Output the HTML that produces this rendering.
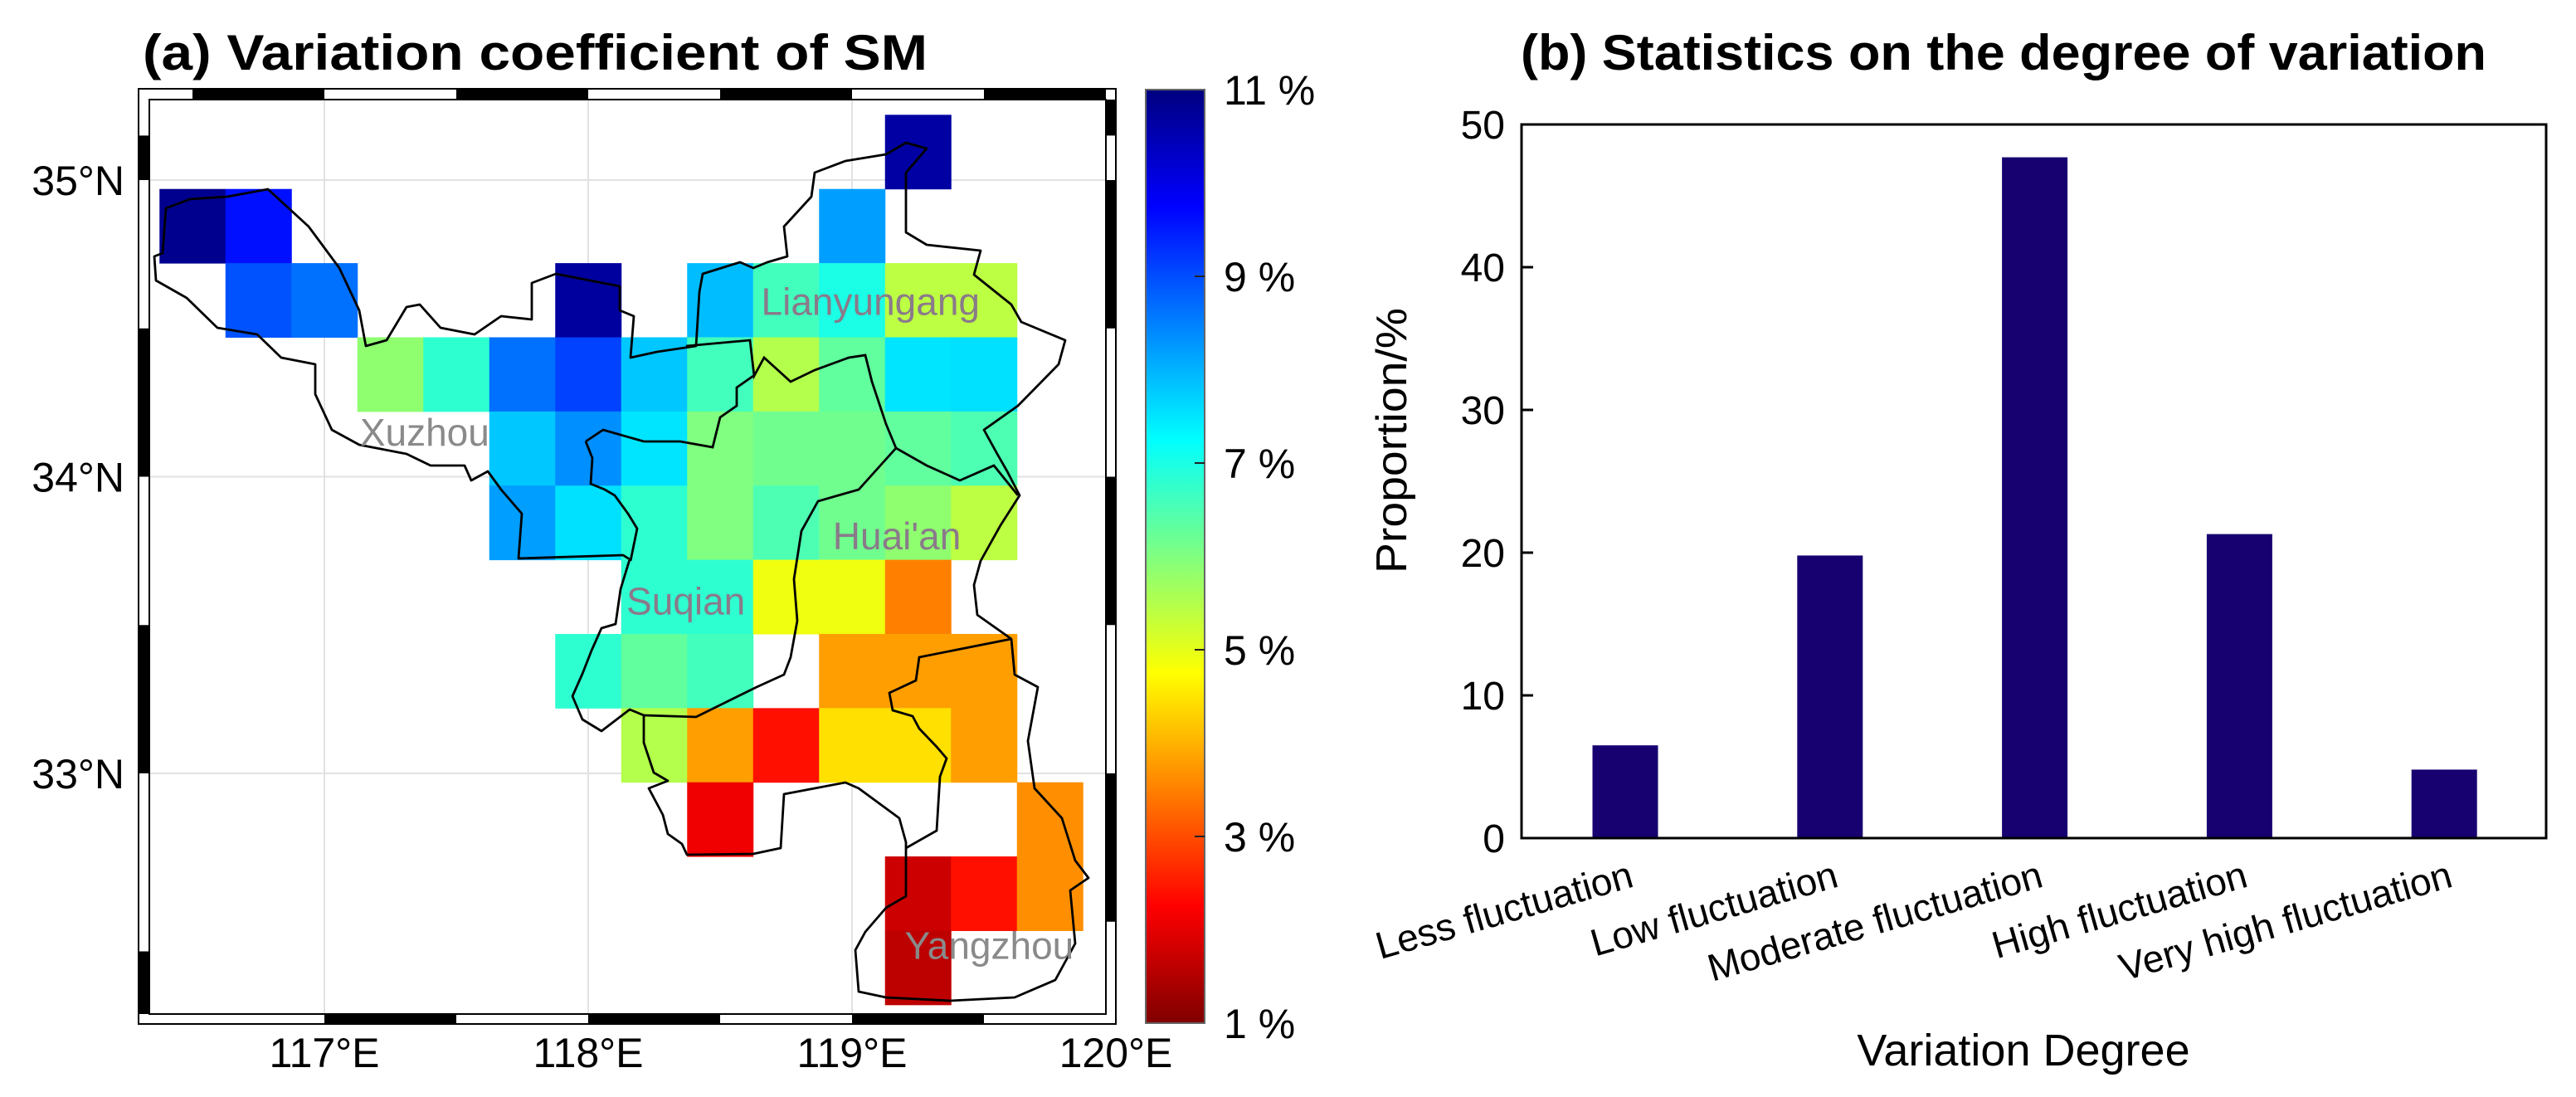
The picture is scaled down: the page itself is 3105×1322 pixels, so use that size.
<!DOCTYPE html>
<html><head><meta charset="utf-8"><title>SM variation</title>
<style>html,body{margin:0;padding:0;background:#fff}svg{display:block}text{font-family:"Liberation Sans",sans-serif}</style></head>
<body>
<svg id="fig" width="3105" height="1322" viewBox="0 0 3105 1322" xmlns="http://www.w3.org/2000/svg">
<rect width="3105" height="1322" fill="#fff"/>
<g id="mapg"></g>
<g id="barg"></g>
</svg>
<script>
// ---- map data (CV %, rows from north, cols from west); null = no data
const gridRowNeg = [null,null,null,null,null,null,null,null,null,null,null,10.65,null,null];
const gridRows = [
 [10.85,9.6,null,null,null,null,null,null,null,null,8.2,null,null,null],
 [null,8.95,8.65,null,null,null,10.7,null,7.9,6.6,7.0,5.4,5.4,null],
 [null,null,null,5.85,6.8,8.65,9.1,7.8,6.6,5.5,6.3,7.5,7.55,null],
 [null,null,null,null,null,7.8,8.35,7.5,6.0,6.15,6.15,6.3,6.5,null],
 [null,null,null,null,null,8.2,7.55,6.8,6.0,6.5,6.15,5.85,5.4,null],
 [null,null,null,null,null,null,null,6.8,6.8,4.9,4.9,3.5,null,null],
 [null,null,null,null,null,null,6.8,6.3,6.6,null,3.8,3.8,3.8,null],
 [null,null,null,null,null,null,null,5.5,3.8,2.4,4.45,4.45,3.8,null],
 [null,null,null,null,null,null,null,null,2.1,null,null,null,null,3.65],
 [null,null,null,null,null,null,null,null,null,null,null,1.75,2.4,3.65],
 [null,null,null,null,null,null,null,null,null,null,null,1.6,null,null]
];
const lonTicks = [117,118,119,120];
const latTicks = [35,34,33];
const cbTicks = [1,3,5,7,9,11];
const cities = ["Xuzhou","Suqian","Lianyungang","Huai'an","Yangzhou"];
const cityLon = [117.38,118.37,119.07,119.17,119.52];
const cityLat = [34.15,33.58,34.59,33.80,32.42];
// ---- bar data
const categories = ["Less fluctuation","Low fluctuation","Moderate fluctuation","High fluctuation","Very high fluctuation"];
const proportions = [6.5,19.8,47.7,21.3,4.8];
const yTicks = [0,10,20,30,40,50];

const NS="http://www.w3.org/2000/svg";
function mk(parent,tag,attrs,txt){const e=document.createElementNS(NS,tag);for(const k in attrs)e.setAttribute(k,attrs[k]);if(txt!==undefined)e.textContent=txt;parent.appendChild(e);return e;}
const lonX = lon => 391 + (lon-117)*318;
const latY = lat => 217 - (lat-35)*357.5;
function jet(v){const u=Math.max(0,Math.min(1,(11-v)/10));const c=x=>Math.round(255*Math.max(0,Math.min(1,1.5-Math.abs(x))));return `rgb(${c(4*u-3)},${c(4*u-2)},${c(4*u-1)})`;}

const M=document.getElementById('mapg');
let t=mk(M,'text',{x:172,y:84,'font-size':60,'font-weight':'bold',textLength:946,lengthAdjust:'spacingAndGlyphs'},'(a) Variation coefficient of SM');


// gridlines
[117,118,119].forEach(l=>{const g=mk(M,'line',{x1:lonX(l),x2:lonX(l),y1:120,y2:1222,stroke:'#e2e2e2','stroke-width':2});});
latTicks.forEach(l=>{const g=mk(M,'line',{x1:180,x2:1333,y1:latY(l),y2:latY(l),stroke:'#e2e2e2','stroke-width':2});});
// cells
const lon0=116.375, lat0=34.97, d=0.25;
function drawRow(row,r){row.forEach((v,c)=>{if(v===null)return;const x1=lonX(lon0+d*c),x2=lonX(lon0+d*(c+1)),y1=latY(lat0-d*r),y2=latY(lat0-d*(r+1));
 const e=mk(M,'rect',{x:x1,y:y1,width:x2-x1+0.5,height:y2-y1+0.5,fill:jet(v)});
 
 });}
drawRow(gridRowNeg,-1);
gridRows.forEach((row,r)=>drawRow(row,r));
// boundaries (static geographic outline, pixel coords)
const outer="M323,228 L372,273 409,323 433,374 441,417 466,410 490,370 506,367 531,395 572,403 604,381 641,385 641,341 670,330 747,345 747,374 764,381 760,431 792,424 839,417 843,352 847,330 892,316 908,323 925,316 949,309 945,273 978,237 982,208 1019,194 1068,186 1092,172 1117,179 1092,208 1092,280 1117,295 1182,302 1174,331 1219,367 1231,388 1284,410 1276,439 1227,489 1186,518 1202,547 1214,568 1229,597 1206,633 1182,676 1174,705 1178,741 1219,770 1223,813 1251,828 1239,893 1247,950 1280,986 1296,1037 1312,1058 1290,1073 1296,1137 1272,1181 1223,1202 1145,1206 1068,1202 1035,1195 1031,1145 1043,1123 1068,1094 1092,1080 1092,1015 1084,986 1035,950 1019,943 982,950 945,957 941,1022 908,1029 828,1030 822,1017 805,1005 799,982 782,950 805,941 788,931 776,895 776,862 759,855 725,881 702,867 690,839 702,812 713,784 725,757 742,752 748,710 759,674 751,669 625,673 629,619 604,590 588,568 568,579 560,561 519,561 490,547 433,536 400,518 380,475 380,439 339,431 310,403 262,395 225,359 188,338 186,309 196,305 200,251 229,240 274,237 Z";
const inner=["M827,417 L904,410 909,453 921,431 953,460 982,446 1023,431 1043,428 1051,460 1068,511 1080,540 1117,561 1157,579 1198,561 1227,597",
 "M1080,540 L1035,590 986,604 966,640 957,698 961,748 953,792 945,813 912,828 839,864 776,862",
 "M1219,770 L1108,792 1104,820 1072,835 1076,856 1100,863 1108,878 1129,900 1141,914 1133,936 1129,1001 1092,1022",
 "M706,532 L727,518 776,532 820,532 859,539 868,503 888,489 888,467 908,453",
 "M706,532 L714,552 712,583 729,590 741,597 757,619 768,637 760,676"];
let b=mk(M,'path',{d:outer,fill:'none',stroke:'#000','stroke-width':2.8,'stroke-linejoin':'round'});


inner.forEach(p=>{const e=mk(M,'path',{d:p,fill:'none',stroke:'#000','stroke-width':2.8});});
// city labels
cities.forEach((n,i)=>{const e=mk(M,'text',{x:lonX(cityLon[i]),y:latY(cityLat[i])+16,'font-size':46,fill:(i==0||i==4)?'#8a8a8a':'#8a7a8a','text-anchor':'middle'},n);
 
 });
// frame
const fr=mk(M,'g',{});
mk(fr,'rect',{x:167,y:107,width:1178,height:1127,fill:'none',stroke:'#000','stroke-width':2});
mk(fr,'rect',{x:180,y:120,width:1153,height:1102,fill:'none',stroke:'#000','stroke-width':2});
function segH(y,h,a,bb){const x1=Math.max(180,lonX(a)),x2=Math.min(1333,lonX(bb));if(x2>x1)mk(fr,'rect',{x:x1,y:y,width:x2-x1,height:h,fill:'#000'});}
function segV(x,w,a,bb){const y1=Math.max(120,latY(bb)),y2=Math.min(1222,latY(a));if(y2>y1)mk(fr,'rect',{x:x,y:y1,width:w,height:y2-y1,fill:'#000'});}
[[116.5,117],[117.5,118],[118.5,119],[119.5,120]].forEach(s=>segH(108,11,s[0],s[1]));
[[117,117.5],[118,118.5],[119,119.5]].forEach(s=>segH(1223,10,s[0],s[1]));
[[35,35.15],[34,34.5],[33,33.5],[32,32.4]].forEach(s=>segV(168,11,s[0],s[1]));
[[35.15,35.3],[34.5,35],[33.5,34],[32.5,33]].forEach(s=>segV(1334,10,s[0],s[1]));
// axis labels
lonTicks.forEach(l=>{const e=mk(M,'text',{x:lonX(l),y:1286,'font-size':50,'text-anchor':'middle'},l+'°E');});
latTicks.forEach(l=>{const e=mk(M,'text',{x:150,y:latY(l)+18,'font-size':50,'text-anchor':'end'},l+'°N');});
// colorbar
const defs=mk(M,'defs',{});const lg=mk(defs,'linearGradient',{id:'cbg',x1:0,y1:1,x2:0,y2:0});
for(let i=0;i<=40;i++){const v=1+i*10/40;mk(lg,'stop',{offset:i/40,'stop-color':jet(v)});}
const cbY=v=>1233-(v-1)*112.5;
const cb=mk(M,'rect',{x:1381,y:cbY(11),width:71,height:cbY(1)-cbY(11),fill:'url(#cbg)',stroke:'#666','stroke-width':2});


cbTicks.forEach(v=>{
 if(v>1&&v<11){const tk=mk(M,'line',{x1:1440,x2:1452,y1:cbY(v),y2:cbY(v),stroke:'#222','stroke-width':2});}
 const e=mk(M,'text',{x:1475,y:cbY(v)+18,'font-size':50},v+' %');
 
 });

// ---- bar chart
const B=document.getElementById('barg');
const L=1834,R=3069,T=150,Bt=1010;
const yS=v=>Bt-v*(Bt-T)/50;
const bx=i=>1959+i*246.8;
t=mk(B,'text',{x:1833,y:84,'font-size':60,'font-weight':'bold',textLength:1164,lengthAdjust:'spacingAndGlyphs'},'(b) Statistics on the degree of variation');


proportions.forEach((v,i)=>{const e=mk(B,'rect',{x:bx(i)-39.5,y:yS(v),width:79,height:Bt-yS(v),fill:'#170070'});
 
 });
const ax=mk(B,'rect',{x:L,y:T,width:R-L,height:Bt-T,fill:'none',stroke:'#000','stroke-width':3});


yTicks.forEach(v=>{const tk=mk(B,'line',{x1:L,x2:L+14,y1:yS(v),y2:yS(v),stroke:'#000','stroke-width':3});
 const e=mk(B,'text',{x:1814,y:yS(v)+17,'font-size':48,'text-anchor':'end'},String(v));
 
 });
categories.forEach((c,i)=>{const x=bx(i)+12,y=1068;
 const e=mk(B,'text',{x:x,y:y,'font-size':46,'text-anchor':'end',transform:`rotate(-16 ${x} ${y})`},c);
 
 });
t=mk(B,'text',{x:1677,y:531,'font-size':52,'text-anchor':'middle',transform:'rotate(-90 1677 531)',dy:18,textLength:320,lengthAdjust:'spacingAndGlyphs'},'Proportion/%');


t=mk(B,'text',{x:2439,y:1284,'font-size':54,'text-anchor':'middle'},'Variation Degree');


</script>
</body></html>
